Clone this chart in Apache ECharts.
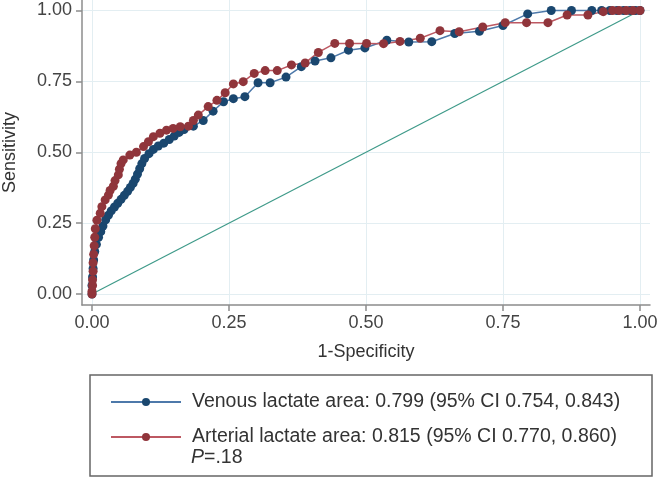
<!DOCTYPE html>
<html>
<head>
<meta charset="utf-8">
<script src="https://cdn.jsdelivr.net/npm/echarts@6/dist/echarts.min.js"></script>
<style>
  html, body { margin: 0; padding: 0; background: #fff; }
  #chart { width: 660px; height: 479px; }
</style>
</head>
<body>
<div id="chart"></div>
<script>
// ROC points (1-specificity, sensitivity)
var venousX = [0, 0, 0.001, 0.002, 0.003, 0.005, 0.008, 0.012, 0.016, 0.02, 0.025, 0.03, 0.035, 0.041, 0.047, 0.053, 0.059, 0.065, 0.07, 0.075, 0.079, 0.083, 0.087, 0.091, 0.096, 0.104, 0.112, 0.121, 0.131, 0.141, 0.15, 0.159, 0.168, 0.185, 0.203, 0.221, 0.24, 0.258, 0.279, 0.303, 0.325, 0.354, 0.382, 0.407, 0.436, 0.468, 0.498, 0.538, 0.578, 0.62, 0.662, 0.707, 0.75, 0.795, 0.838, 0.875, 0.912, 0.93, 0.945, 0.958, 0.97, 0.982, 0.992, 1];
var venousY = [0, 0.03, 0.06, 0.09, 0.12, 0.15, 0.175, 0.2, 0.22, 0.24, 0.262, 0.278, 0.293, 0.307, 0.32, 0.334, 0.348, 0.362, 0.376, 0.39, 0.405, 0.423, 0.442, 0.46, 0.478, 0.495, 0.51, 0.522, 0.532, 0.545, 0.557, 0.57, 0.58, 0.592, 0.612, 0.645, 0.678, 0.689, 0.696, 0.745, 0.745, 0.765, 0.802, 0.822, 0.833, 0.86, 0.868, 0.895, 0.889, 0.89, 0.919, 0.927, 0.947, 0.988, 1, 1, 1, 1, 1, 1, 1, 1, 1, 1];

var arterialX = [0, 0, 0.001, 0.001, 0.002, 0.002, 0.003, 0.004, 0.005, 0.006, 0.009, 0.015, 0.018, 0.024, 0.03, 0.033, 0.039, 0.042, 0.048, 0.05, 0.053, 0.057, 0.069, 0.081, 0.094, 0.103, 0.112, 0.124, 0.136, 0.148, 0.161, 0.176, 0.185, 0.194, 0.212, 0.228, 0.243, 0.258, 0.276, 0.296, 0.316, 0.338, 0.364, 0.389, 0.413, 0.443, 0.47, 0.501, 0.532, 0.562, 0.599, 0.635, 0.67, 0.713, 0.754, 0.793, 0.832, 0.867, 0.905, 0.933, 0.95, 0.962, 0.975, 0.987, 1];
var arterialY = [0, 0.01, 0.03, 0.05, 0.08, 0.11, 0.14, 0.17, 0.2, 0.23, 0.26, 0.285, 0.308, 0.332, 0.349, 0.365, 0.38, 0.4, 0.42, 0.44, 0.46, 0.473, 0.49, 0.5, 0.52, 0.537, 0.555, 0.567, 0.578, 0.584, 0.59, 0.592, 0.612, 0.631, 0.661, 0.683, 0.71, 0.741, 0.749, 0.778, 0.788, 0.788, 0.808, 0.815, 0.852, 0.884, 0.884, 0.884, 0.883, 0.891, 0.902, 0.929, 0.925, 0.942, 0.957, 0.957, 0.957, 0.984, 0.984, 0.996, 1, 1, 1, 1, 1];

var refX = [0, 1];
var refY = [0, 1];

var tickValues = [0, 0.25, 0.5, 0.75, 1];

var venousName = 'Venous lactate area: 0.799 (95% CI 0.754, 0.843)';
var arterialName = 'Arterial lactate area: 0.815 (95% CI 0.770, 0.860)';
var pText = '{i|P}=.18';

function pairs(xs, ys) {
  return xs.map(function (x, i) { return [x, ys[i]]; });
}

var font = 'Liberation Sans, Arial, Helvetica, sans-serif';
var gridLine = { show: true, lineStyle: { color: '#e3eef2', width: 1 } };

var chart = echarts.init(document.getElementById('chart'));
chart.setOption({
  animation: false,
  backgroundColor: '#fff',
  textStyle: { fontFamily: font },
  grid: { left: 82, right: 10, top: 0, bottom: 174, containLabel: false, outerBoundsMode: 'none' },
  xAxis: {
    type: 'value',
    min: -0.01825,
    max: 1.01825,
    name: '1-Specificity',
    nameLocation: 'middle',
    nameGap: 38,
    nameTextStyle: { fontSize: 18, color: '#333', fontFamily: font },
    axisLine: { show: true, onZero: false, lineStyle: { color: '#8c8c8c', width: 1.5 } },
    axisTick: { show: true, length: 6, customValues: tickValues, lineStyle: { color: '#8c8c8c', width: 1.5 } },
    axisLabel: { customValues: tickValues, margin: 9, fontSize: 18, color: '#444', fontFamily: font,
      formatter: function (v) { return v.toFixed(2); } },
    splitLine: gridLine
  },
  yAxis: {
    type: 'value',
    min: -0.0388,
    max: 1.03704,
    name: 'Sensitivity',
    nameLocation: 'middle',
    nameGap: 63,
    nameRotate: 90,
    nameTextStyle: { fontSize: 18, color: '#333', fontFamily: font },
    axisLine: { show: true, onZero: false, lineStyle: { color: '#8c8c8c', width: 1.5 } },
    axisTick: { show: true, length: 6, customValues: tickValues, lineStyle: { color: '#8c8c8c', width: 1.5 } },
    axisLabel: { customValues: tickValues, margin: 10, fontSize: 18, color: '#444', fontFamily: font,
      formatter: function (v) { return v.toFixed(2); } },
    splitLine: gridLine
  },
  legend: {
    orient: 'vertical',
    left: 110,
    top: 391,
    itemWidth: 70,
    itemHeight: 10,
    itemGap: 13,
    padding: 0,
    data: [venousName, arterialName],
    textStyle: { fontSize: 19.5, color: '#333', fontFamily: font, lineHeight: 22, padding: [0, 0, 0, 6] }
  },
  graphic: [
    {
      type: 'rect',
      z: -1,
      shape: { x: 90, y: 375, width: 562, height: 101 },
      style: { fill: '#fff', stroke: '#666', lineWidth: 1.5 }
    },
    {
      type: 'text',
      left: 191,
      top: 448,
      style: {
        text: pText,
        fontSize: 19.5,
        fontFamily: font,
        fill: '#333',
        rich: { i: { fontStyle: 'italic', fontSize: 19.5, fontFamily: font, fill: '#333' } }
      }
    }
  ],
  series: [
    {
      name: 'reference',
      type: 'line',
      data: pairs(refX, refY),
      showSymbol: false,
      symbol: 'none',
      lineStyle: { color: '#3e9a89', width: 1.2 },
      silent: true
    },
    {
      name: venousName,
      type: 'line',
      data: pairs(venousX, venousY),
      symbol: 'circle',
      symbolSize: 9,
      showAllSymbol: true,
      itemStyle: { color: '#1a476f' },
      lineStyle: { color: '#4d79aa', width: 1.5 }
    },
    {
      name: arterialName,
      type: 'line',
      data: pairs(arterialX, arterialY),
      symbol: 'circle',
      symbolSize: 9,
      showAllSymbol: true,
      itemStyle: { color: '#90353b' },
      lineStyle: { color: '#bd5862', width: 1.5 }
    }
  ]
});
</script>
</body>
</html>
